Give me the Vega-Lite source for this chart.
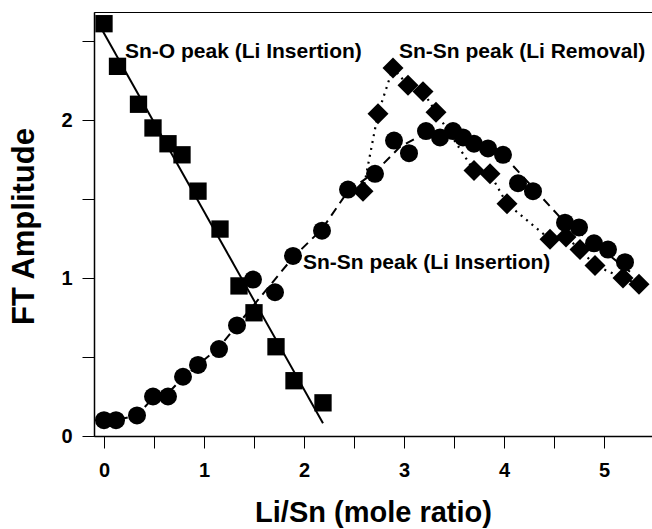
{
  "$schema": "https://vega.github.io/schema/vega-lite/v6.json",
  "width": 559,
  "height": 424,
  "autosize": {"type": "none"},
  "padding": {"left": 94, "top": 12, "right": 0, "bottom": 93},
  "background": "white",
  "config": {
    "view": {"stroke": "black", "strokeWidth": 1},
    "font": "Liberation Sans"
  },
  "data": {
    "values": [
      {"s": "fit", "x": -0.01, "y": 2.56},
      {"s": "fit", "x": 2.19, "y": 0.08},

      {"s": "sq", "x": 0.00, "y": 2.61},
      {"s": "sq", "x": 0.135, "y": 2.34},
      {"s": "sq", "x": 0.345, "y": 2.10},
      {"s": "sq", "x": 0.49, "y": 1.95},
      {"s": "sq", "x": 0.64, "y": 1.85},
      {"s": "sq", "x": 0.78, "y": 1.78},
      {"s": "sq", "x": 0.94, "y": 1.55},
      {"s": "sq", "x": 1.16, "y": 1.31},
      {"s": "sq", "x": 1.35, "y": 0.95},
      {"s": "sq", "x": 1.50, "y": 0.78},
      {"s": "sq", "x": 1.72, "y": 0.565},
      {"s": "sq", "x": 1.90, "y": 0.35},
      {"s": "sq", "x": 2.19, "y": 0.21},

      {"s": "dash", "x": 0.00, "y": 0.10},
      {"s": "dash", "x": 0.12, "y": 0.10},
      {"s": "dash", "x": 0.33, "y": 0.13},
      {"s": "dash", "x": 0.49, "y": 0.24},
      {"s": "dash", "x": 0.64, "y": 0.27},
      {"s": "dash", "x": 0.79, "y": 0.37},
      {"s": "dash", "x": 0.94, "y": 0.45},
      {"s": "dash", "x": 1.15, "y": 0.56},
      {"s": "dash", "x": 1.33, "y": 0.70},
      {"s": "dash", "x": 1.89, "y": 1.13},
      {"s": "dash", "x": 2.18, "y": 1.31},
      {"s": "dash", "x": 2.44, "y": 1.55},
      {"s": "dash", "x": 2.71, "y": 1.67},
      {"s": "dash", "x": 2.96, "y": 1.83},
      {"s": "dash", "x": 3.22, "y": 1.92},
      {"s": "dash", "x": 3.45, "y": 1.93},
      {"s": "dash", "x": 3.70, "y": 1.86},
      {"s": "dash", "x": 3.99, "y": 1.78},
      {"s": "dash", "x": 4.61, "y": 1.35},
      {"s": "dash", "x": 4.90, "y": 1.22},
      {"s": "dash", "x": 5.26, "y": 1.04},

      {"s": "ci", "x": 0.00, "y": 0.10},
      {"s": "ci", "x": 0.12, "y": 0.10},
      {"s": "ci", "x": 0.33, "y": 0.13},
      {"s": "ci", "x": 0.49, "y": 0.25},
      {"s": "ci", "x": 0.64, "y": 0.25},
      {"s": "ci", "x": 0.79, "y": 0.375},
      {"s": "ci", "x": 0.94, "y": 0.45},
      {"s": "ci", "x": 1.15, "y": 0.55},
      {"s": "ci", "x": 1.33, "y": 0.70},
      {"s": "ci", "x": 1.49, "y": 0.99},
      {"s": "ci", "x": 1.71, "y": 0.91},
      {"s": "ci", "x": 1.89, "y": 1.14},
      {"s": "ci", "x": 2.18, "y": 1.30},
      {"s": "ci", "x": 2.44, "y": 1.56},
      {"s": "ci", "x": 2.71, "y": 1.66},
      {"s": "ci", "x": 2.90, "y": 1.87},
      {"s": "ci", "x": 3.05, "y": 1.79},
      {"s": "ci", "x": 3.22, "y": 1.93},
      {"s": "ci", "x": 3.36, "y": 1.89},
      {"s": "ci", "x": 3.49, "y": 1.93},
      {"s": "ci", "x": 3.59, "y": 1.89},
      {"s": "ci", "x": 3.70, "y": 1.85},
      {"s": "ci", "x": 3.84, "y": 1.82},
      {"s": "ci", "x": 3.99, "y": 1.78},
      {"s": "ci", "x": 4.14, "y": 1.60},
      {"s": "ci", "x": 4.29, "y": 1.55},
      {"s": "ci", "x": 4.61, "y": 1.35},
      {"s": "ci", "x": 4.75, "y": 1.32},
      {"s": "ci", "x": 4.90, "y": 1.22},
      {"s": "ci", "x": 5.04, "y": 1.18},
      {"s": "ci", "x": 5.21, "y": 1.10},

      {"s": "di", "x": 2.59, "y": 1.55},
      {"s": "di", "x": 2.74, "y": 2.04},
      {"s": "di", "x": 2.89, "y": 2.33},
      {"s": "di", "x": 3.04, "y": 2.22},
      {"s": "di", "x": 3.19, "y": 2.18},
      {"s": "di", "x": 3.32, "y": 2.05},
      {"s": "di", "x": 3.70, "y": 1.68},
      {"s": "di", "x": 3.86, "y": 1.66},
      {"s": "di", "x": 4.03, "y": 1.47},
      {"s": "di", "x": 4.46, "y": 1.245},
      {"s": "di", "x": 4.62, "y": 1.26},
      {"s": "di", "x": 4.76, "y": 1.18},
      {"s": "di", "x": 4.91, "y": 1.08},
      {"s": "di", "x": 5.19, "y": 1.00},
      {"s": "di", "x": 5.35, "y": 0.96},

      {"s": "lab", "x": 0.21, "y": 2.43, "label": "Sn-O peak (Li Insertion)"},
      {"s": "lab", "x": 2.95, "y": 2.43, "label": "Sn-Sn peak (Li Removal)"},
      {"s": "lab", "x": 1.99, "y": 1.095, "label": "Sn-Sn peak (Li Insertion)"}
    ]
  },
  "encoding": {
    "x": {
      "field": "x",
      "type": "quantitative",
      "scale": {"domain": [-0.1, 5.49], "nice": false, "zero": false},
      "axis": {
        "title": "Li/Sn (mole ratio)",
        "values": [0, 0.5, 1, 1.5, 2, 2.5, 3, 3.5, 4, 4.5, 5],
        "labelExpr": "datum.value % 1 === 0 ? format(datum.value, 'd') : ''",
        "grid": false,
        "domainColor": "black",
        "domainWidth": 1.5,
        "tickColor": "black",
        "tickWidth": 1,
        "tickSize": 12,
        "labelFont": "Liberation Sans",
        "labelFontSize": 20,
        "labelFontWeight": "bold",
        "labelColor": "black",
        "labelPadding": 12,
        "labelFlush": false,
        "labelOverlap": false,
        "titleFont": "Liberation Sans",
        "titleFontSize": 29,
        "titleFontWeight": "bold",
        "titleColor": "black",
        "titleBaseline": "alphabetic",
        "titleX": 279,
        "titleY": 85
      }
    },
    "y": {
      "field": "y",
      "type": "quantitative",
      "scale": {"domain": [0, 2.684], "nice": false, "zero": false},
      "axis": {
        "title": "FT Amplitude",
        "values": [0, 0.5, 1, 1.5, 2, 2.5],
        "labelExpr": "datum.value % 1 === 0 ? format(datum.value, 'd') : ''",
        "grid": false,
        "domainColor": "black",
        "domainWidth": 1.5,
        "tickColor": "black",
        "tickWidth": 1,
        "tickSize": 12,
        "labelFont": "Liberation Sans",
        "labelFontSize": 20,
        "labelFontWeight": "bold",
        "labelColor": "black",
        "labelPadding": 10,
        "labelFlush": false,
        "labelOverlap": false,
        "titleFont": "Liberation Sans",
        "titleFontSize": 31,
        "titleFontWeight": "bold",
        "titleColor": "black",
        "titleBaseline": "alphabetic",
        "titleAngle": 270,
        "titleX": -61,
        "titleY": 214
      }
    }
  },
  "layer": [
    {
      "transform": [{"filter": "datum.s === 'fit'"}],
      "mark": {"type": "line", "color": "black", "strokeWidth": 2}
    },
    {
      "transform": [{"filter": "datum.s === 'dash'"}],
      "mark": {"type": "line", "color": "black", "strokeWidth": 2, "strokeDash": [9, 6]}
    },
    {
      "transform": [{"filter": "datum.s === 'di'"}],
      "mark": {"type": "line", "color": "black", "strokeWidth": 2.2, "strokeDash": [2, 5]}
    },
    {
      "transform": [{"filter": "datum.s === 'sq'"}],
      "mark": {"type": "point", "shape": "square", "filled": true, "color": "black", "opacity": 1, "size": 300}
    },
    {
      "transform": [{"filter": "datum.s === 'ci'"}],
      "mark": {"type": "point", "shape": "circle", "filled": true, "color": "black", "opacity": 1, "size": 324}
    },
    {
      "transform": [{"filter": "datum.s === 'di'"}],
      "mark": {"type": "point", "shape": "diamond", "filled": true, "color": "black", "opacity": 1, "size": 440}
    },
    {
      "transform": [{"filter": "datum.s === 'lab'"}],
      "mark": {"type": "text", "align": "left", "baseline": "middle", "font": "Liberation Sans", "fontSize": 21, "fontWeight": "bold", "color": "black"},
      "encoding": {"text": {"field": "label"}}
    }
  ]
}
